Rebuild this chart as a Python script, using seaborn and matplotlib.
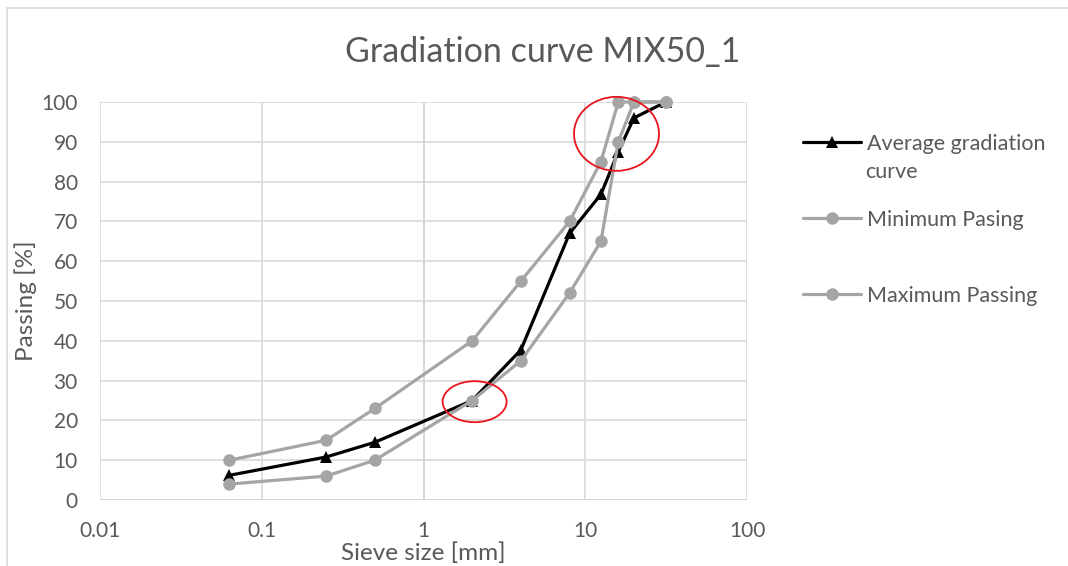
import numpy as np
import pandas as pd
import seaborn as sns
import matplotlib.pyplot as plt
from matplotlib.patches import Ellipse, Rectangle
from matplotlib.transforms import ScaledTranslation

# sieve sizes [mm] and passing percentages
sieve_mm    = [0.063, 0.25, 0.5, 2, 4, 8, 12.5, 16, 20, 31.5]
avg_passing = [6.2, 10.8, 14.5, 25, 37.7, 67, 76.8, 87.5, 96, 100]
min_passing = [4, 6, 10, 25, 35, 52, 65, 90, 100, 100]
max_passing = [10, 15, 23, 40, 55, 70, 85, 100, 100, 100]

series_names = ['Average gradiation', 'Minimum Pasing', 'Maximum Passing']
avg_label_2nd_line = 'curve'

x_ticks      = [0.01, 0.1, 1, 10, 100]
x_tick_lbls  = ['0.01', '0.1', '1', '10', '100']
y_ticks      = list(range(0, 101, 10))

# highlighted regions (data coords of ellipse centres)
circle_x = [15.6, 2.07]
circle_y = [92.0, 24.7]

TXT   = '#595959'
GREY  = '#a5a5a5'
GRID  = '#d9d9d9'

df = pd.concat([
    pd.DataFrame({'size': sieve_mm, 'passing': avg_passing, 'series': series_names[0]}),
    pd.DataFrame({'size': sieve_mm, 'passing': min_passing, 'series': series_names[1]}),
    pd.DataFrame({'size': sieve_mm, 'passing': max_passing, 'series': series_names[2]}),
], ignore_index=True)

sns.set_style('white')
plt.rcParams['font.family'] = ['Lato', 'DejaVu Sans']

fig = plt.figure(figsize=(10.68, 5.66), dpi=100)
ax = fig.add_axes([100/1068, 1 - 500/566, 647/1068, 398/566])

sns.lineplot(
    data=df, x='size', y='passing', hue='series', style='series',
    hue_order=series_names, style_order=series_names,
    palette={series_names[0]: 'black', series_names[1]: GREY, series_names[2]: GREY},
    markers={series_names[0]: '^', series_names[1]: 'o', series_names[2]: 'o'},
    dashes=False, lw=2.3, markersize=9, markeredgewidth=0,
    sort=False, estimator=None, ax=ax, clip_on=False
)

ax.set_xscale('log')
ax.set_xlim(0.01, 100)
ax.set_ylim(0, 100)
ax.set_xticks(x_ticks)
ax.set_xticklabels(x_tick_lbls)
ax.minorticks_off()
ax.set_yticks(y_ticks)
ax.tick_params(axis='both', length=0, labelsize=15, colors=TXT)
ax.tick_params(axis='x', pad=15)
ax.tick_params(axis='y', pad=16)
for s in ax.spines.values():
    s.set_visible(False)
ax.grid(True, color=GRID, lw=1.2)
ax.set_axisbelow(True)
ax.axvline(1, color='#bfbfbf', lw=1.2, zorder=0.5)
ax.axhline(0, color='#bfbfbf', lw=1.2, zorder=0.5)

ax.set_xlabel('Sieve size [mm]', fontsize=17.5, color=TXT, labelpad=1)
ax.set_ylabel('Passing [%]', fontsize=17.5, color=TXT, labelpad=3)

fig.text(0.508, 1 - 52/566, 'Gradiation curve MIX50_1', ha='center', va='center',
         fontsize=24.5, color=TXT)

# red ellipses around the highlighted points
ell_sizes = [(0.85, 0.74), (0.64, 0.41)]
for cx, cy, (w, h) in zip(circle_x, circle_y, ell_sizes):
    e = Ellipse((0, 0), w, h, fill=False, edgecolor='#e8141b', lw=1.3,
                transform=fig.dpi_scale_trans + ScaledTranslation(cx, cy, ax.transData),
                clip_on=False, zorder=5)
    ax.add_artist(e)

handles, labels = ax.get_legend_handles_labels()
ax.legend(handles, labels, loc='upper left', bbox_to_anchor=(803/1068, 1 - 134/566),
          bbox_transform=fig.transFigure, frameon=False, fontsize=15.5,
          handlelength=2.7, handletextpad=0.25, labelspacing=2.6, labelcolor=TXT,
          borderaxespad=0, borderpad=0)
fig.text(865/1068, 1 - 172/566, avg_label_2nd_line, ha='left', va='center',
         fontsize=15.5, color=TXT)

fig.add_artist(Rectangle((7/1068, -0.05), 1.05, 1 - 8/566 + 0.05, transform=fig.transFigure,
                         fill=False, edgecolor=GRID, lw=1.2))

fig.savefig('out.png', dpi=100)
